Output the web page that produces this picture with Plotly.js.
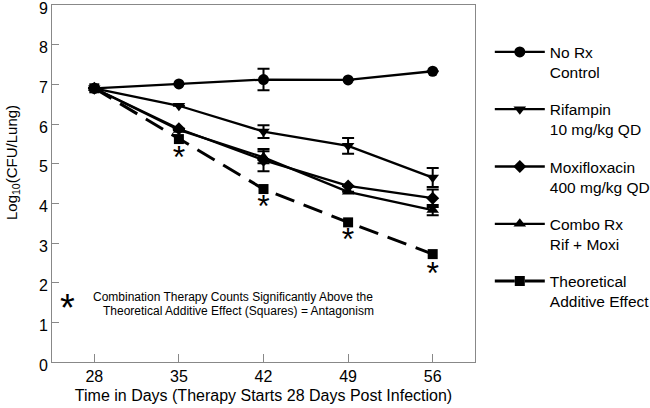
<!DOCTYPE html>
<html><head><meta charset="utf-8">
<script src="https://cdn.plot.ly/plotly-3.0.1.min.js"></script>
<style>html,body{margin:0;padding:0;background:#fff}#chart{width:650px;height:408px}</style>
</head><body><div id="chart"></div>
<script>
const days = [28, 35, 42, 49, 56];
const noRx = [6.90, 7.01, 7.12, 7.11, 7.33];
const noRxErr = [0, 0, 0.27, 0, 0];
const rif = [6.90, 6.46, 5.81, 5.45, 4.65];
const rifErr = [0, 0, 0.16, 0.2, 0.24];
const moxi = [6.90, 5.88, 5.09, 4.44, 4.13];
const moxiErr = [0, 0, 0.28, 0, 0.22];
const combo = [6.90, 5.85, 5.16, 4.29, 3.83];
const comboErr = [0, 0, 0.15, 0, 0.13];
const theo = [6.90, 5.62, 4.36, 3.52, 2.72];
const starDays = [35, 42, 49, 56];
const starY = [5.10, 3.86, 3.02, 2.18];
const names = ['No Rx<br>Control', 'Rifampin<br>10 mg/kg QD', 'Moxifloxacin<br>400 mg/kg QD', 'Combo Rx<br>Rif + Moxi', 'Theoretical<br>Additive Effect'];
const xTicks = [28, 35, 42, 49, 56];
const yTicks = [0,1,2,3,4,5,6,7,8,9];

function tr(y, err, name, sym, size, dash, width, grp) {
  return {
    x: days, y: y, name: name, type: 'scatter', mode: 'lines+markers',
    legendgroup: grp, cliponaxis: false,
    line: {color: '#000', width: width, dash: dash},
    marker: {symbol: sym, size: size, color: '#000'},
    error_y: err ? {type: 'data', array: err, visible: true, color: '#000', thickness: 2, width: 6} : undefined
  };
}
const data = [
  tr(noRx, noRxErr, names[0], 'circle', 11, 'solid', 2.3, 'a'),
  tr(rif, rifErr, names[1], 'triangle-down', 11, 'solid', 2.3, 'b'),
  tr(moxi, moxiErr, names[2], 'diamond', 10, 'solid', 2.3, 'c'),
  tr(combo, comboErr, names[3], 'triangle-up', 11, 'solid', 2.3, 'd'),
  tr(theo, null, names[4], 'square', 10, '20px,10px', 3, 'e'),
  {x: starDays, y: starY, type: 'scatter', mode: 'text', text: starDays.map(() => '*'),
   textfont: {family: 'Liberation Sans, Arial', size: 32, color: '#000'}, showlegend: false, hoverinfo: 'skip'}
];
const layout = {
  width: 650, height: 408,
  margin: {l: 52, r: 175, t: 5, b: 46, autoexpand: false},
  paper_bgcolor: '#fff', plot_bgcolor: '#fff',
  font: {family: 'Liberation Sans, Arial', size: 16, color: '#000'},
  showlegend: true,
  legend: {x: 1.035, y: 0.915, xanchor: 'left', yanchor: 'top', tracegroupgap: 14, valign: 'top',
           itemwidth: 50, font: {size: 15.5}, bgcolor: 'rgba(0,0,0,0)'},
  xaxis: {range: [24.5, 59.5], tickvals: xTicks, ticktext: xTicks.map(String),
          ticks: 'inside', ticklen: 8, tickcolor: '#888', showgrid: false, zeroline: false,
          showline: true, linecolor: '#888', linewidth: 1, mirror: true,
          tickfont: {size: 16},
          title: {text: 'Time in Days (Therapy Starts 28 Days Post Infection)', standoff: 5, font: {size: 16}}},
  yaxis: {range: [0, 9], tickvals: yTicks, ticks: 'inside', ticklen: 7, tickcolor: '#888',
          showgrid: false, zeroline: false, showline: true, linecolor: '#888', linewidth: 1, mirror: true,
          tickfont: {size: 16}, ticklabeloverflow: 'allow', ticklabelshift: 3},
  annotations: [
    {xref: 'paper', yref: 'paper', x: -40 / 423, y: (362 - 163) / 357, text: 'Log<sub>10</sub>(CFU/Lung)', textangle: -90,
     showarrow: false, font: {size: 15, color: '#000'}, xanchor: 'center', yanchor: 'middle'},
    {xref: 'paper', yref: 'paper', x: 0.037, y: 0.15, text: '*', showarrow: false,
     font: {size: 38, color: '#000'}, xanchor: 'center', yanchor: 'middle'},
    {xref: 'paper', yref: 'paper', x: 0.428, y: (362 - 297) / 357, text: 'Combination Therapy Counts Significantly Above the',
     showarrow: false, font: {size: 12, color: '#000'}, xanchor: 'center', yanchor: 'middle'},
    {xref: 'paper', yref: 'paper', x: 0.44, y: (362 - 311) / 357, text: 'Theoretical Additive Effect (Squares) = Antagonism',
     showarrow: false, font: {size: 12, color: '#000'}, xanchor: 'center', yanchor: 'middle'}
  ]
};
Plotly.newPlot('chart', data, layout, {displayModeBar: false, staticPlot: true});
</script></body></html>
